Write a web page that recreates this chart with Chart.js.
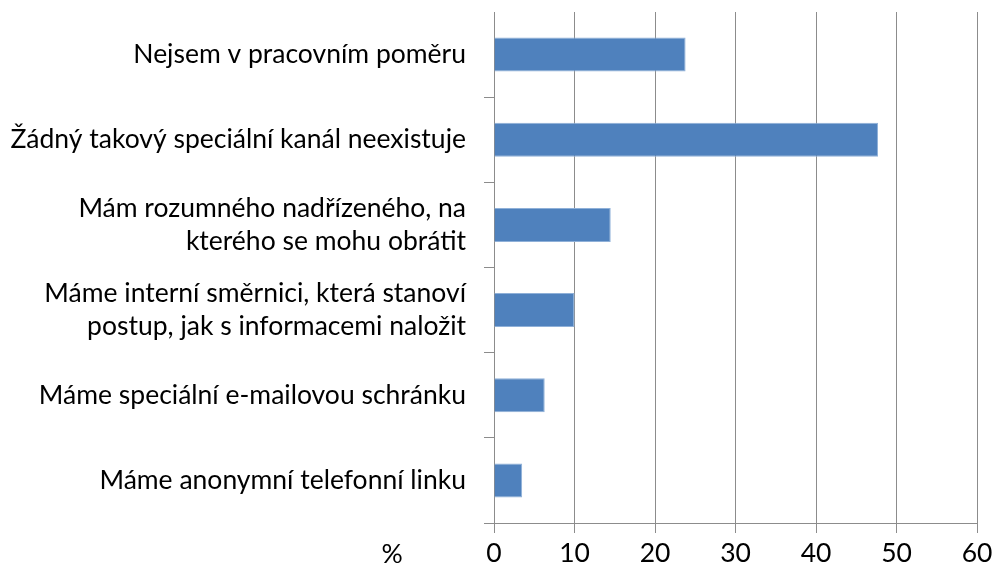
<!DOCTYPE html>
<html>
<head>
<meta charset="utf-8">
<script src="https://cdn.jsdelivr.net/npm/chart.js@4/dist/chart.umd.min.js"></script>
<style>
  html, body { margin: 0; padding: 0; background: #fff; }
  #wrap { width: 994px; height: 568px; }
</style>
</head>
<body>
<div id="wrap"><canvas id="c" width="994" height="568"></canvas></div>
<script>
const categories = [
  ["Nejsem v pracovním poměru"],
  ["Žádný takový speciální kanál neexistuje"],
  ["Mám rozumného nadřízeného, na", "kterého se mohu obrátit"],
  ["Máme interní směrnici, která stanoví", "postup, jak s informacemi naložit"],
  ["Máme speciální e-mailovou schránku"],
  ["Máme anonymní telefonní linku"]
];
const values = [23.8, 47.7, 14.5, 10, 6.3, 3.5];
const xTicks = [0, 10, 20, 30, 40, 50, 60];
const unitLabel = "%";

const FONT = "Lato, 'Open Sans', sans-serif";
const FS = 26.5;

const unitPlugin = {
  id: 'unitLabel',
  afterDraw(chart) {
    const ctx = chart.ctx;
    const xs = chart.scales.x;
    ctx.save();
    ctx.font = FS + "px " + FONT;
    ctx.fillStyle = "#000";
    ctx.textAlign = "center";
    ctx.textBaseline = "middle";
    ctx.fillText(unitLabel, 392, xs.bottom - 14);
    ctx.restore();
  }
};

new Chart(document.getElementById('c'), {
  type: 'bar',
  data: {
    labels: categories,
    datasets: [{
      data: values,
      backgroundColor: '#4F81BD',
      borderColor: '#8fb0d8',
      borderWidth: 1,
      categoryPercentage: 1.0,
      barPercentage: 0.4
    }]
  },
  options: {
    indexAxis: 'y',
    responsive: false,
    animation: false,
    layout: { padding: { left: 0, right: 17, top: 12, bottom: 0 } },
    plugins: { legend: { display: false }, tooltip: { enabled: false } },
    scales: {
      x: {
        min: 0, max: 60,
        afterBuildTicks(scale) { scale.ticks = xTicks.map(v => ({ value: v })); },
        afterFit(scale) { scale.height = 45; scale.paddingLeft = 0; scale.paddingRight = 0; },
        grid: { color: '#8c8c8c', lineWidth: 1, tickLength: 10, drawTicks: true },
        border: { color: '#8c8c8c', width: 1 },
        ticks: { font: { family: FONT, size: FS }, color: '#000', padding: 5, maxRotation: 0 }
      },
      y: {
        afterFit(scale) { scale.width = 494; scale.paddingTop = 0; scale.paddingBottom = 0; },
        grid: {
          drawOnChartArea: false,
          color: (c) => (c.index === 0 ? 'rgba(0,0,0,0)' : '#8c8c8c'),
          tickLength: 10,
          offset: true
        },
        border: { color: '#8c8c8c', width: 1 },
        ticks: { font: { family: FONT, size: FS, lineHeight: 1.25 }, color: '#000', padding: 18 }
      }
    }
  },
  plugins: [unitPlugin]
});
</script>
</body>
</html>
